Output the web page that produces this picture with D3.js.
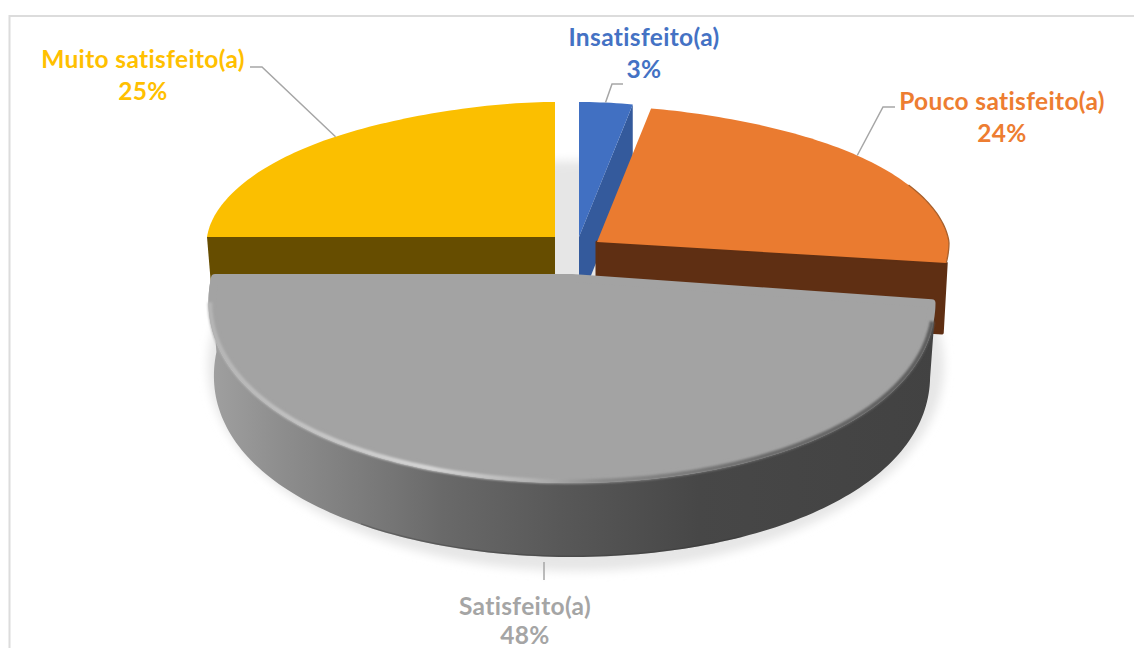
<!DOCTYPE html>
<html><head><meta charset="utf-8">
<script src="https://cdn.jsdelivr.net/npm/d3@7"></script>
<style>html,body{margin:0;padding:0;background:#fff;overflow:hidden}svg{display:block}text{font-family:Lato,"Open Sans",sans-serif;font-weight:700;letter-spacing:.35px}</style>
</head><body><div id="c"></div>
<script>
const categories=["Insatisfeito(a)","Pouco satisfeito(a)","Satisfeito(a)","Muito satisfeito(a)"];
const values=[3,24,48,25];
const percentLabels=["3%","24%","48%","25%"];
const topColors=["#4170c2","#ea7b30","#a3a3a3","#fbbf00"];
const sideColors=["#345a9c","#5f2f13","url(#greySide)","#664d00"];
const apexX=[579,597,572,555];
const apexY=[237,242,278,237];
const radiusX=[350,352,361,348];
const radiusY=[135,136,205,135];
const frontWiden=[0,0,0.12,0];
const frontStretch=[1,1.23,1,1];
const depth=[68,70,74,60];
const labelX=[644,1002,525,143];
const labelY=[46,110,615,68];
const percentY=[78,142,643.5,100];
const leaderElbows=[[612,84,623,84],[883,107,895,107],[544,562,544,580],[262,67,250,67]];
const leaderAngleShift=[0,-3.5,0,3];
const greySideStops=[[0,"#a0a0a0"],[0.1,"#8d8d8d"],[0.25,"#757575"],[0.32,"#696969"],[0.48,"#585858"],[0.67,"#474747"],[1,"#424242"]];
const rimStops=[[0,"#b5b5b5"],[0.12,"#c2c2c2"],[0.3,"#d6d6d6"],[0.44,"#b4b4b4"],[0.54,"#8a8a8a"],[0.75,"#6c6c6c"],[1,"#5c5c5c"]];

const W=1134,H=648;
const svg=d3.select("#c").append("svg").attr("width",W).attr("height",H);
const defs=svg.append("defs");
function grad(id,stops){const g=defs.append("linearGradient").attr("id",id).attr("gradientUnits","userSpaceOnUse").attr("x1",210).attr("x2",940).attr("y1",0).attr("y2",0);
 stops.forEach(s=>g.append("stop").attr("offset",s[0]).attr("stop-color",s[1]));}
grad("greySide",greySideStops);grad("rim",rimStops);
defs.append("filter").attr("id","blurS").attr("x","-10%").attr("y","-10%").attr("width","120%").attr("height","120%").append("feGaussianBlur").attr("stdDeviation",5);
defs.append("filter").attr("id","blurR").attr("x","-5%").attr("y","-5%").attr("width","110%").attr("height","110%").append("feGaussianBlur").attr("stdDeviation",1.2);

// frame
svg.append("path").attr("d",d3.line()([[9.5,H],[9.5,16],[W,16]])).attr("fill","none").attr("stroke","#dcdcdc").attr("stroke-width",2);

const arcs=d3.pie().sort(null).startAngle(0).endAngle(2*Math.PI)(values);
function project(i,t,d,inset){
 inset=inset||0;
 const c=Math.cos(t),s=Math.sin(t);
 const w=c>0?1-0.06*c-0.14*Math.pow(c,8):1+frontWiden[i]*(-c);
 const rx=(radiusX[i]-inset)*(d?0.985:1), ry=(radiusY[i]-inset)*(c<0?frontStretch[i]:1);
 return [apexX[i]+rx*s*w, apexY[i]-ry*c+(d||0)];
}
function rim(i,a0,a1,d,inset){
 const n=Math.max(4,Math.ceil(Math.abs(a1-a0)/0.02));
 return d3.range(n+1).map(k=>project(i,a0+(a1-a0)*k/n,d,inset));
}
const line=d3.line();
const closed=p=>line(p)+"Z";

// soft shadow under the pie
svg.append("ellipse").attr("cx",576).attr("cy",366).attr("rx",368).attr("ry",205).attr("fill","#e6e6e6").attr("filter","url(#blurS)");

// back slices then the front slice
[3,0,1].forEach(i=>{
 const a=arcs[i];
 const g=svg.append("g");
 const apex=[apexX[i],apexY[i]];
 const rimEdge=i===3?a.startAngle:a.endAngle;
 if(i===0){ // cut face on the end angle
  const e=project(i,a.endAngle,0);
  g.append("path").attr("fill",sideColors[i]).attr("d",closed([apex,e,[e[0],e[1]+depth[i]],[apex[0],apex[1]+depth[i]]]));
 } else {
  const e=project(i,rimEdge,0), e2=[e[0]+(i===3?5:-4),e[1]+depth[i]];
  g.append("path").attr("fill",sideColors[i]).attr("stroke",sideColors[i]).attr("stroke-width",i===1?3:0).attr("stroke-linejoin","round")
   .attr("d",closed([apex,e,e2,[apex[0],apex[1]+depth[i]]]));
 }
 g.append("path").attr("fill",topColors[i]).attr("d",closed([apex].concat(rim(i,a.startAngle,a.endAngle,0))));
});
// orange bevel on the far right of the rim
svg.append("path").attr("fill","none").attr("stroke","#a8602c").attr("stroke-width",1.3)
 .attr("d",line(rim(1,arcs[1].startAngle+0.95,arcs[1].endAngle,0)));

// grey front slice
(function(){
 const i=2,a=arcs[i],apex=[apexX[i],apexY[i]];
 const top=rim(i,a.startAngle,a.endAngle,0);
 const bottom=rim(i,a.startAngle,a.endAngle,depth[i]).reverse();
 svg.append("path").attr("fill",sideColors[i]).attr("d",closed(top.concat(bottom)));
 svg.append("path").attr("fill","none").attr("stroke","#333").attr("stroke-opacity",0.3).attr("stroke-width",1.5)
   .attr("d",line(rim(i,a.startAngle+1.0,a.endAngle-1.0,depth[i],0.7)));
 svg.append("path").attr("fill",topColors[i]).attr("stroke",topColors[i]).attr("stroke-width",8).attr("stroke-linejoin","round")
   .attr("d",closed([[apex[0],apex[1]]].concat(rim(i,a.startAngle,a.endAngle,0,4))));
 svg.append("path").attr("fill","none").attr("stroke","url(#rim)").attr("stroke-width",4.5).attr("filter","url(#blurR)")
   .attr("d",line(rim(i,a.startAngle+0.09,a.endAngle-0.12,0,1.5)));
})();

// leaders
arcs.forEach((a,i)=>{
 const mid=(a.startAngle+a.endAngle)/2+leaderAngleShift[i]*Math.PI/180;
 const e=leaderElbows[i];
 const pts=i===2?[[e[0],e[1]],[e[2],e[3]]]:[project(i,mid,0),[e[0],e[1]],[e[2],e[3]]];
 svg.append("path").attr("fill","none").attr("stroke","#a6a6a6").attr("stroke-width",1.5).attr("d",line(pts));
});
// labels
const labelColors=["#4472c4","#ed7d31","#a5a5a5","#ffc000"];
categories.forEach((c,i)=>{
 svg.append("text").attr("x",labelX[i]).attr("y",labelY[i]).attr("text-anchor","middle").attr("font-size",24.5).attr("fill",labelColors[i]).text(c);
 svg.append("text").attr("x",labelX[i]).attr("y",percentY[i]).attr("text-anchor","middle").attr("font-size",24.5).attr("fill",labelColors[i]).text(percentLabels[i]);
});
</script></body></html>
